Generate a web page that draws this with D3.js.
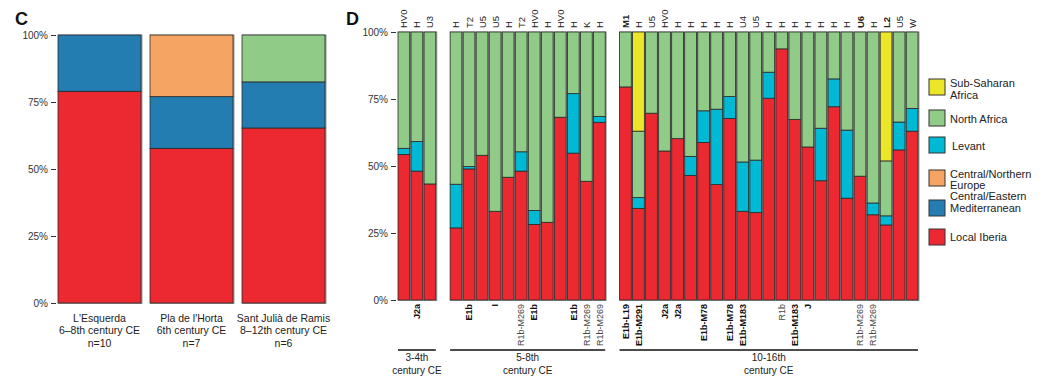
<!DOCTYPE html>
<html>
<head>
<meta charset="utf-8">
<script src="https://cdn.jsdelivr.net/npm/d3@7"></script>
<style>
  body { margin: 0; background: #fff; }
  svg { font-family: "Liberation Sans", Arial, Helvetica, sans-serif; }
  .tick text { fill: #333; font-size: 10px; }
  .tick line { stroke: #333; }
</style>
</head>
<body>
<svg id="chart" width="1051" height="384"></svg>
<script>
// ---- Panel C: site level ancestry ----
var siteNames = ["L'Esquerda", "Pla de l'Horta", "Sant Julià de Ramis"];
var siteDates = ["6–8th century CE", "6th century CE", "8–12th century CE"];
var siteCounts = ["n=10", "n=7", "n=6"];
var siteIberia = [0.790, 0.577, 0.653];
var siteCentralEastMed = [0.210, 0.193, 0.172];
var siteCentralNorthEurope = [0, 0.230, 0];
var siteNorthAfrica = [0, 0, 0.175];

// ---- Panel D: individual ancestry ----
var periodNames = ["3-4th", "5-8th", "10-16th"];
var periodSizes = [3, 12, 23];
var mtHaplo = ["HV0", "H", "U3",
  "H", "T2", "U5", "U5", "H", "T2", "HV0", "H", "HV0", "H", "K", "H",
  "M1", "H", "U5", "HV0", "H", "H", "H", "H", "H", "U4", "U5", "H", "H", "H", "H", "H", "H", "H", "U6", "H", "L2", "U5", "W"];
var yHaplo = ["", "J2a", "",
  "", "E1b", "", "I", "", "R1b-M269", "E1b", "", "", "E1b", "R1b-M269", "R1b-M269",
  "E1b-L19", "E1b-M291", "", "J2a", "J2a", "", "E1b-M78", "", "E1b-M78", "E1b-M183", "", "", "R1b", "E1b-M183", "J", "", "", "", "R1b-M269", "R1b-M269", "", "", ""];
var mtBold = ["M1", "U6", "L2"];
var yPlain = ["R1b", "R1b-M269"];
var indIberia = [0.543, 0.481, 0.433,
  0.269, 0.489, 0.540, 0.331, 0.458, 0.481, 0.282, 0.290, 0.682, 0.548, 0.443, 0.663,
  0.795, 0.342, 0.697, 0.556, 0.602, 0.465, 0.588, 0.431, 0.677, 0.331, 0.326, 0.753, 0.937, 0.674, 0.571, 0.445, 0.721, 0.380, 0.462, 0.318, 0.280, 0.560, 0.630];
var indLevant = [0.023, 0.110, 0,
  0.163, 0.009, 0, 0, 0, 0.072, 0.052, 0, 0, 0.222, 0, 0.022,
  0, 0.040, 0, 0, 0, 0.071, 0.118, 0.281, 0.082, 0.184, 0.196, 0.097, 0, 0, 0, 0.196, 0.104, 0.254, 0, 0.044, 0.034, 0.104, 0.085];
var indNorthAfrica = [0.434, 0.409, 0.567,
  0.568, 0.502, 0.460, 0.669, 0.542, 0.447, 0.666, 0.710, 0.318, 0.230, 0.557, 0.315,
  0.205, 0.248, 0.303, 0.444, 0.398, 0.464, 0.294, 0.288, 0.241, 0.485, 0.478, 0.150, 0.063, 0.326, 0.429, 0.359, 0.175, 0.366, 0.538, 0.638, 0.205, 0.336, 0.285];
var indSubSaharan = [0, 0, 0,
  0, 0, 0, 0, 0, 0, 0, 0, 0, 0, 0, 0,
  0, 0.370, 0, 0, 0, 0, 0, 0, 0, 0, 0, 0, 0, 0, 0, 0, 0, 0, 0, 0, 0.481, 0, 0];

// ---- Legend ----
var legendKeys = ["subSaharan", "northAfrica", "levant", "centralNorthEurope", "centralEastMed", "iberia"];
var legendLabels = [["Sub-Saharan", "Africa"], ["North Africa"], ["Levant"], ["Central/Northern", "Europe"], ["Central/Eastern", "Mediterranean"], ["Local Iberia"]];

var colors = {
  iberia: "#ec2830",
  centralEastMed: "#237db1",
  centralNorthEurope: "#f5a463",
  northAfrica: "#90cb88",
  levant: "#00bad5",
  subSaharan: "#ece628"
};

var svg = d3.select("#chart");

// Draws a stacked bar set into g, given rows, keys, x band scale and y scale.
function drawStacks(g, rows, keys, x, y, xKey) {
  var series = d3.stack().keys(keys)(rows);
  // grey shadow frame behind each bar
  g.selectAll("rect.shadow").data(rows).join("rect")
    .attr("class", "shadow")
    .attr("x", function(d) { return x(d[xKey]); })
    .attr("y", y(1) - 0.5)
    .attr("width", x.bandwidth() + 1.5)
    .attr("height", y(0) - y(1) + 1.5)
    .attr("fill", "#9a9a9a");
  g.selectAll("g.layer").data(series).join("g")
    .attr("class", "layer")
    .attr("fill", function(s) { return colors[s.key]; })
    .selectAll("rect").data(function(s) { return s.filter(function(d) { return d[1] - d[0] > 0; }); })
    .join("rect")
      .attr("x", function(d) { return x(d.data[xKey]); })
      .attr("y", function(d) { return y(d[1]); })
      .attr("width", x.bandwidth())
      .attr("height", function(d) { return y(d[0]) - y(d[1]); })
      .attr("stroke", "#2a2a2a")
      .attr("stroke-width", 0.8);
}

function drawYAxis(g, y, xPos) {
  g.attr("transform", "translate(" + xPos + ",0)")
    .call(d3.axisLeft(y).tickValues([0, 0.25, 0.5, 0.75, 1])
      .tickFormat(d3.format(".0%")).tickSize(5).tickPadding(3))
    .call(function(a) { a.select(".domain").remove(); });
}

// ---------- Panel C ----------
var siteRows = siteNames.map(function(s, i) {
  return {site: s, iberia: siteIberia[i], centralEastMed: siteCentralEastMed[i],
    centralNorthEurope: siteCentralNorthEurope[i], northAfrica: siteNorthAfrica[i]};
});
var xC = d3.scaleBand().domain(siteNames).range([58, 325]).paddingInner(0.098).paddingOuter(0);
var yC = d3.scaleLinear().domain([0, 1]).range([303, 35]);
var gC = svg.append("g");
drawYAxis(gC.append("g"), yC, 56);
drawStacks(gC.append("g"), siteRows, ["iberia", "centralEastMed", "centralNorthEurope", "northAfrica"], xC, yC, "site");

svg.append("text").attr("x", 15).attr("y", 25).text("C")
  .attr("font-size", 18).attr("font-weight", "bold").attr("fill", "#111");

var cLabels = gC.append("g").selectAll("text").data(siteNames).join("text")
  .attr("text-anchor", "middle")
  .attr("font-size", 10.5)
  .attr("fill", "#222")
  .attr("transform", function(d) { return "translate(" + (xC(d) + xC.bandwidth() / 2) + ",0)"; });
cLabels.each(function(d, i) {
  var t = d3.select(this);
  [siteNames[i], siteDates[i], siteCounts[i]].forEach(function(line, j) {
    t.append("tspan").attr("x", 0).attr("y", 322 + j * 12.3).text(line);
  });
});

// ---------- Panel D ----------
// slot keys: one per individual, plus one empty slot between periods
var slots = [], indRows = [], k = 0;
periodSizes.forEach(function(n, p) {
  if (p > 0) slots.push("gap" + p);
  for (var j = 0; j < n; j++, k++) {
    slots.push("ind" + k);
    indRows.push({id: "ind" + k, period: p, mt: mtHaplo[k], y: yHaplo[k],
      iberia: indIberia[k], levant: indLevant[k], northAfrica: indNorthAfrica[k], subSaharan: indSubSaharan[k]});
  }
});
var xD = d3.scaleBand().domain(slots).range([398, 918]).paddingInner(0.1).paddingOuter(0);
var yD = d3.scaleLinear().domain([0, 1]).range([300, 32]);
var gD = svg.append("g");
drawYAxis(gD.append("g"), yD, 396);
drawStacks(gD.append("g"), indRows, ["iberia", "levant", "northAfrica", "subSaharan"], xD, yD, "id");

svg.append("text").attr("x", 346).attr("y", 25).text("D")
  .attr("font-size", 18).attr("font-weight", "bold").attr("fill", "#111");

// mtDNA haplogroups above the bars
gD.append("g").selectAll("text").data(indRows).join("text")
  .attr("transform", function(d) { return "translate(" + (xD(d.id) + xD.bandwidth() / 2 + 3.5) + ",28) rotate(-90)"; })
  .attr("font-size", 9.5)
  .attr("font-weight", function(d) { return mtBold.indexOf(d.mt) >= 0 ? "bold" : "normal"; })
  .attr("fill", "#222")
  .text(function(d) { return d.mt; });

// Y chromosome haplogroups below the bars
gD.append("g").selectAll("text").data(indRows.filter(function(d) { return d.y; })).join("text")
  .attr("transform", function(d) { return "translate(" + (xD(d.id) + xD.bandwidth() / 2 + 3.3) + ",304) rotate(-90)"; })
  .attr("text-anchor", "end")
  .attr("font-size", 9)
  .attr("font-weight", function(d) { return yPlain.indexOf(d.y) >= 0 ? "normal" : "bold"; })
  .attr("fill", function(d) { return yPlain.indexOf(d.y) >= 0 ? "#444" : "#111"; })
  .text(function(d) { return d.y; });

// Period brackets
var periods = periodNames.map(function(name, p) {
  var ids = indRows.filter(function(d) { return d.period === p; });
  return {name: name, x0: xD(ids[0].id), x1: xD(ids[ids.length - 1].id) + xD.bandwidth()};
});
var pg = gD.append("g").selectAll("g").data(periods).join("g");
pg.append("line")
  .attr("x1", function(d) { return d.x0; }).attr("x2", function(d) { return d.x1; })
  .attr("y1", 350).attr("y2", 350)
  .attr("stroke", "#111").attr("stroke-width", 1.3);
pg.append("text")
  .attr("x", function(d) { return (d.x0 + d.x1) / 2; }).attr("y", 361)
  .attr("text-anchor", "middle").attr("font-size", 10).attr("fill", "#222")
  .text(function(d) { return d.name; });
pg.append("text")
  .attr("x", function(d) { return (d.x0 + d.x1) / 2; }).attr("y", 373.5)
  .attr("text-anchor", "middle").attr("font-size", 10).attr("fill", "#222")
  .text("century CE");

// ---------- Legend ----------
// box tops and first text baseline for each entry
var legendBoxY = [79, 110, 137, 170, 200, 229];
var legendTextY = [87, 123, 150, 177.5, 200, 241];
var lg = svg.append("g").selectAll("g").data(legendKeys).join("g");
lg.append("rect")
  .attr("x", 929)
  .attr("y", function(d, i) { return legendBoxY[i]; })
  .attr("width", 16).attr("height", 16)
  .attr("fill", function(d) { return colors[d]; })
  .attr("stroke", "#333").attr("stroke-width", 1);
lg.append("text")
  .attr("font-size", 11).attr("fill", "#222")
  .each(function(d, i) {
    var t = d3.select(this);
    legendLabels[i].forEach(function(line, j) {
      t.append("tspan").attr("x", i === 2 ? 952 : 950).attr("y", legendTextY[i] + j * 11.5).text(line);
    });
  });
</script>
</body>
</html>
